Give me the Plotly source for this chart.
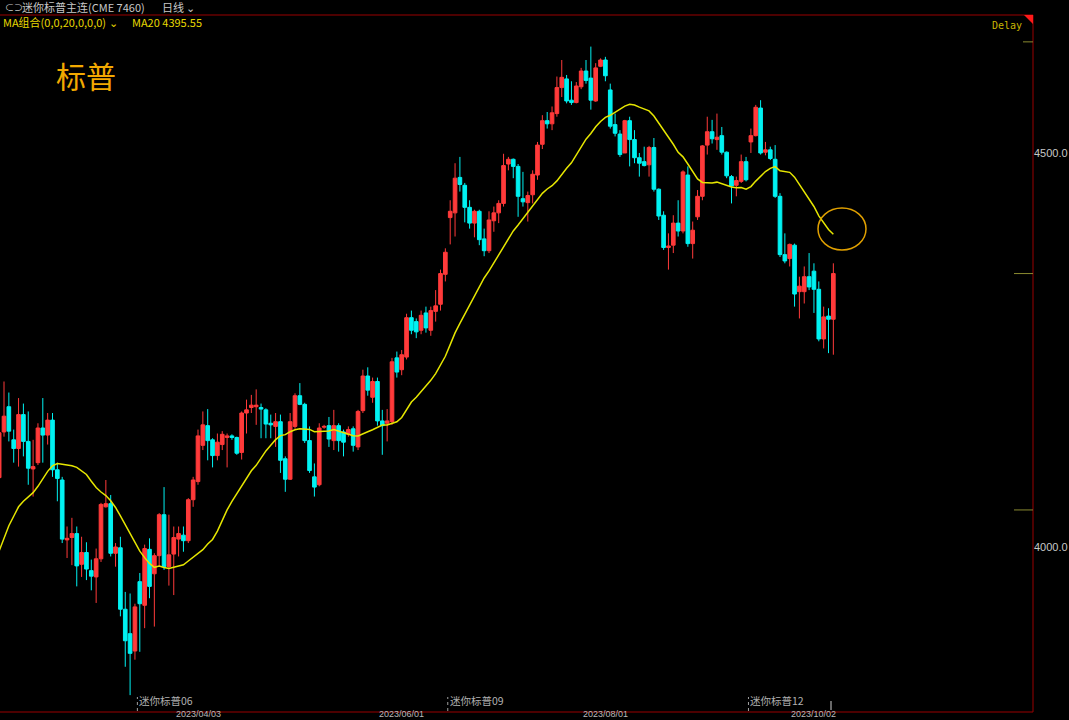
import pandas as pd
import plotly.graph_objects as go

# ---------------- data ----------------
holidays = ["2023-02-20", "2023-05-29", "2023-07-04", "2023-09-04"]
dates = [d.strftime("%Y-%m-%d") for d in
         pd.bdate_range("2023-02-02", "2023-10-06", freq="C", holidays=holidays)]

opens = [4088, 4146, 4178, 4136, 4125, 4168, 4134, 4099, 4107, 4151,
         4142, 4161, 4098, 4085, 4009, 4012, 4017, 3978, 3993, 3970,
         3962, 3985, 4051, 4055, 3992, 3999, 3921, 3890, 3868, 3956,
         3926, 3997, 3966, 3989, 4041, 3975, 3991, 4010, 4015, 4008,
         4060, 4083, 4129, 4154, 4136, 4116, 4130, 4139, 4141, 4139,
         4120, 4170, 4177, 4178, 4177, 4174, 4157, 4153, 4159, 4112,
         4086, 4153, 4192, 4181, 4135, 4089, 4079, 4152, 4154, 4135,
         4154, 4146, 4143, 4150, 4127, 4173, 4217, 4190, 4210, 4160,
         4157, 4159, 4240, 4225, 4241, 4291, 4286, 4275, 4297, 4275,
         4299, 4308, 4346, 4418, 4424, 4469, 4459, 4431, 4411, 4426,
         4391, 4376, 4414, 4424, 4436, 4486, 4492, 4483, 4442, 4437,
         4447, 4472, 4511, 4541, 4537, 4550, 4583, 4594, 4567, 4564,
         4584, 4604, 4595, 4566, 4610, 4618, 4580, 4536, 4524, 4500,
         4541, 4517, 4494, 4489, 4485, 4507, 4454, 4421, 4380, 4383,
         4411, 4401, 4472, 4385, 4419, 4445, 4510, 4527, 4517, 4522,
         4501, 4470, 4459, 4464, 4489, 4514, 4522, 4557, 4501, 4504,
         4492, 4445, 4371, 4366, 4383, 4324, 4324, 4343, 4350, 4327,
         4264, 4293, 4289]
highs = [4206, 4210, 4196, 4149, 4189, 4182, 4172, 4136, 4157, 4189,
         4170, 4170, 4107, 4089, 4026, 4037, 4026, 4013, 4006, 3984,
         3998, 4056, 4085, 4066, 4005, 4013, 3943, 3941, 3928, 3967,
         4003, 4011, 3992, 4043, 4076, 4041, 4026, 4026, 4026, 4062,
         4089, 4149, 4172, 4175, 4138, 4144, 4147, 4144, 4143, 4140,
         4172, 4187, 4193, 4200, 4182, 4176, 4168, 4170, 4168, 4115,
         4170, 4195, 4208, 4183, 4153, 4106, 4157, 4155, 4165, 4174,
         4157, 4149, 4153, 4153, 4174, 4225, 4228, 4215, 4215, 4174,
         4175, 4240, 4248, 4250, 4296, 4300, 4290, 4300, 4305, 4305,
         4326, 4352, 4379, 4440, 4487, 4495, 4462, 4440, 4428, 4428,
         4404, 4426, 4432, 4440, 4499, 4495, 4493, 4486, 4476, 4451,
         4478, 4514, 4548, 4552, 4559, 4597, 4618, 4599, 4591, 4590,
         4608, 4618, 4635, 4614, 4620, 4622, 4588, 4550, 4529, 4542,
         4546, 4529, 4500, 4508, 4509, 4519, 4455, 4426, 4398, 4421,
         4440, 4478, 4483, 4413, 4453, 4510, 4546, 4542, 4550, 4533,
         4502, 4472, 4470, 4498, 4495, 4531, 4561, 4567, 4514, 4508,
         4510, 4449, 4398, 4385, 4385, 4343, 4356, 4373, 4360, 4337,
         4305, 4303, 4360]
lows = [4079, 4140, 4134, 4107, 4102, 4115, 4079, 4064, 4104, 4107,
        4130, 4089, 4058, 4005, 3986, 3977, 3950, 3962, 3958, 3945,
        3929, 3981, 4050, 3988, 3975, 3912, 3848, 3812, 3857, 3867,
        3897, 3935, 3899, 3975, 3971, 3951, 3939, 3988, 3994, 4005,
        4051, 4079, 4123, 4110, 4101, 4110, 4123, 4101, 4136, 4117,
        4111, 4144, 4170, 4155, 4138, 4138, 4138, 4127, 4094, 4070,
        4085, 4150, 4180, 4132, 4094, 4064, 4077, 4150, 4127, 4123,
        4121, 4115, 4140, 4121, 4123, 4170, 4192, 4183, 4154, 4117,
        4134, 4155, 4215, 4218, 4238, 4270, 4265, 4270, 4272, 4268,
        4286, 4300, 4337, 4384, 4394, 4451, 4412, 4404, 4393, 4383,
        4369, 4373, 4400, 4411, 4432, 4478, 4468, 4419, 4432, 4413,
        4436, 4466, 4505, 4531, 4529, 4546, 4571, 4563, 4561, 4563,
        4581, 4588, 4555, 4565, 4609, 4591, 4531, 4521, 4495, 4500,
        4483, 4487, 4470, 4483, 4470, 4451, 4415, 4377, 4352, 4373,
        4394, 4398, 4381, 4366, 4415, 4440, 4498, 4512, 4504, 4498,
        4468, 4436, 4445, 4462, 4464, 4500, 4521, 4498, 4497, 4491,
        4443, 4368, 4360, 4356, 4305, 4290, 4309, 4326, 4297, 4261,
        4252, 4246, 4244]
closes = [4145, 4166, 4147, 4125, 4168, 4134, 4100, 4102, 4151, 4142,
          4161, 4098, 4087, 4010, 4011, 4017, 3976, 3993, 3972, 3963,
          3985, 4054, 4055, 3992, 4000, 3921, 3881, 3865, 3924, 3928,
          3998, 3950, 3989, 4041, 3975, 3990, 4012, 4017, 4008, 4060,
          4085, 4141, 4155, 4135, 4116, 4133, 4143, 4141, 4139, 4119,
          4170, 4174, 4180, 4180, 4175, 4156, 4155, 4159, 4110, 4086,
          4159, 4192, 4181, 4135, 4097, 4076, 4151, 4153, 4137, 4154,
          4135, 4133, 4149, 4129, 4172, 4217, 4199, 4210, 4160, 4154,
          4160, 4235, 4222, 4244, 4291, 4275, 4273, 4294, 4278, 4300,
          4306, 4347, 4374, 4426, 4468, 4460, 4431, 4411, 4426, 4390,
          4376, 4415, 4424, 4436, 4484, 4492, 4483, 4445, 4438, 4446,
          4473, 4510, 4541, 4537, 4551, 4583, 4596, 4566, 4564, 4585,
          4604, 4592, 4567, 4608, 4618, 4598, 4534, 4525, 4498, 4541,
          4517, 4494, 4487, 4484, 4507, 4454, 4420, 4380, 4382, 4411,
          4401, 4476, 4385, 4402, 4445, 4509, 4527, 4518, 4520, 4501,
          4471, 4458, 4465, 4489, 4466, 4522, 4558, 4500, 4504, 4493,
          4445, 4371, 4363, 4384, 4321, 4331, 4343, 4330, 4327, 4264,
          4292, 4289, 4347]

# MA20 values for the first 19 sessions (earlier closes are off-chart)
ma_head = [3995, 4010, 4027, 4039, 4051, 4058, 4064, 4069, 4077, 4086,
           4096, 4103, 4106, 4105, 4104, 4103, 4101, 4097, 4092]

date_ticks = ["2023-04-03", "2023-06-01", "2023-08-01", "2023-10-02"]
date_tick_text = ["2023/04/03", "2023/06/01", "2023/08/01", "2023/10/02"]
price_ticks = [4000, 4500]
price_tick_text = ["4000.0", "4500.0"]
contract_labels = ["迷你标普06", "迷你标普09", "迷你标普12"]
contract_first_days = ["2023-03-16", "2023-06-15", "2023-09-13"]
marker_prices = [4347, 4047, 4641]

assert len(dates) == len(closes) == len(opens) == len(highs) == len(lows)

ma20 = ma_head + list(pd.Series(closes).rolling(20).mean().iloc[len(ma_head):])

# ---------------- figure ----------------
RED = "#ff3a3a"
CYAN = "#00f2f2"
fig = go.Figure()
fig.add_trace(go.Candlestick(
    x=dates, open=opens, high=highs, low=lows, close=closes,
    increasing=dict(line=dict(color=RED, width=1), fillcolor=RED),
    decreasing=dict(line=dict(color=CYAN, width=1), fillcolor=CYAN),
    whiskerwidth=0, showlegend=False, hoverinfo="skip"))
fig.add_trace(go.Scatter(x=dates, y=ma20, mode="lines",
                         line=dict(color="#e6e600", width=1.5),
                         showlegend=False, hoverinfo="skip"))

W, H = 1069, 720
L, R, T, B = 0, 36, 15, 8
PW, PH = W - L - R, H - T - B


def px(x):
    return (x - L) / PW


def py(y):
    return (H - B - y) / PH


CJK = "Noto Sans CJK SC"
GRAY = "#c8c8c8"
YEL = "#e8d800"
annotations = [
    dict(x=px(20), y=py(7), text="迷你标普主连(CME 7460)", font=dict(family=CJK, size=11, color=GRAY),
         xanchor="left", yanchor="middle"),
    dict(x=px(3), y=py(7), text="⊂⊃", font=dict(family=CJK, size=9, color=GRAY),
         xanchor="left", yanchor="middle"),
    dict(x=px(160), y=py(7), text="日线 ⌄", font=dict(family=CJK, size=11, color=GRAY),
         xanchor="left", yanchor="middle"),
    dict(x=px(1), y=py(22), text="MA组合(0,0,20,0,0,0) ⌄", font=dict(family=CJK, size=11, color=YEL),
         xanchor="left", yanchor="middle"),
    dict(x=px(130), y=py(22), text="MA20 4395.55", font=dict(family=CJK, size=11, color=YEL),
         xanchor="left", yanchor="middle"),
    dict(x=px(54), y=py(75), text="标普", font=dict(family=CJK, size=30, color="#f2a900"),
         xanchor="left", yanchor="middle"),
    dict(x=px(1024), y=py(25), text="Delay", font=dict(family="DejaVu Sans Mono", size=10, color="#c8b400"),
         xanchor="right", yanchor="middle"),
]
for lab, d in zip(contract_labels, contract_first_days):
    annotations.append(dict(x=dates.index(d) - 0.5, xref="x", y=py(709), yref="paper", text=lab,
                            font=dict(family=CJK, size=10.5, color="#b0b0b0"),
                            xanchor="left", yanchor="bottom", xshift=1, borderpad=0))
# date labels along the time axis (squeezed into the strip below the frame)
for d, t in zip(date_ticks, date_tick_text):
    annotations.append(dict(x=d, xref="x", y=py(720), yref="paper", text=t,
                            font=dict(family="Liberation Sans", size=9, color="#b8b8b8"),
                            xanchor="center", yanchor="bottom", borderpad=0))
for a in annotations:
    a.setdefault("xref", "paper")
    a.setdefault("yref", "paper")
    a["showarrow"] = False

DARKRED = "#9a0000"
shapes = [
    dict(type="line", xref="paper", yref="paper", x0=0, x1=1, y0=1, y1=1, line=dict(color=DARKRED, width=1)),
    dict(type="line", xref="paper", yref="paper", x0=0, x1=1, y0=0, y1=0, line=dict(color=DARKRED, width=1)),
    dict(type="line", xref="paper", yref="paper", x0=1, x1=1, y0=0, y1=1, line=dict(color=DARKRED, width=1)),
    dict(type="path", xref="paper", yref="paper",
         path=f"M {px(1024)},{py(15)} L {px(1033)},{py(15)} L {px(1033)},{py(24)} Z",
         fillcolor="#ff1a1a", line=dict(width=0)),
    dict(type="circle", xref="paper", yref="paper", x0=px(818), x1=px(866), y0=py(250), y1=py(208),
         line=dict(color="#e0a000", width=1.5)),
    dict(type="line", xref="paper", yref="paper", x0=px(831), x1=px(831), y0=py(710), y1=py(701),
         line=dict(color="#d0d0d0", width=1)),
]
for d in contract_first_days:
    xi = dates.index(d) - 0.5
    shapes.append(dict(type="line", xref="x", yref="paper", x0=xi, x1=xi, y0=py(711), y1=py(697),
                       line=dict(color="#a0a0a0", width=1, dash="dot")))
# right-edge price markers
for yv, x0 in zip(marker_prices, [1014, 1014, 1023]):
    shapes.append(dict(type="line", xref="paper", yref="y", x0=px(x0), x1=px(1033), y0=yv, y1=yv,
                       line=dict(color="#8a8a30", width=1)))

fig.update_layout(
    width=W, height=H, margin=dict(l=L, r=R, t=T, b=B, autoexpand=False),
    paper_bgcolor="#000000", plot_bgcolor="#000000",
    boxgap=0.25, boxgroupgap=0,
    xaxis=dict(type="category", range=[0.175, 0.175 + PW / 4.85], showgrid=False, zeroline=False,
               showline=False, ticks="", showticklabels=False, automargin=False,
               rangeslider=dict(visible=False), fixedrange=True),
    yaxis=dict(side="right", range=[3790.6, 4675.1], showgrid=False, zeroline=False, showline=False,
               ticks="", tickvals=price_ticks, ticktext=price_tick_text, automargin=False,
               tickfont=dict(family="Liberation Sans", size=11, color=GRAY), fixedrange=True),
    annotations=annotations, shapes=shapes, showlegend=False,
)

fig.write_html("out.html", config={"displayModeBar": False},
               post_script="document.body.style.margin='0';document.body.style.background='#000';")
